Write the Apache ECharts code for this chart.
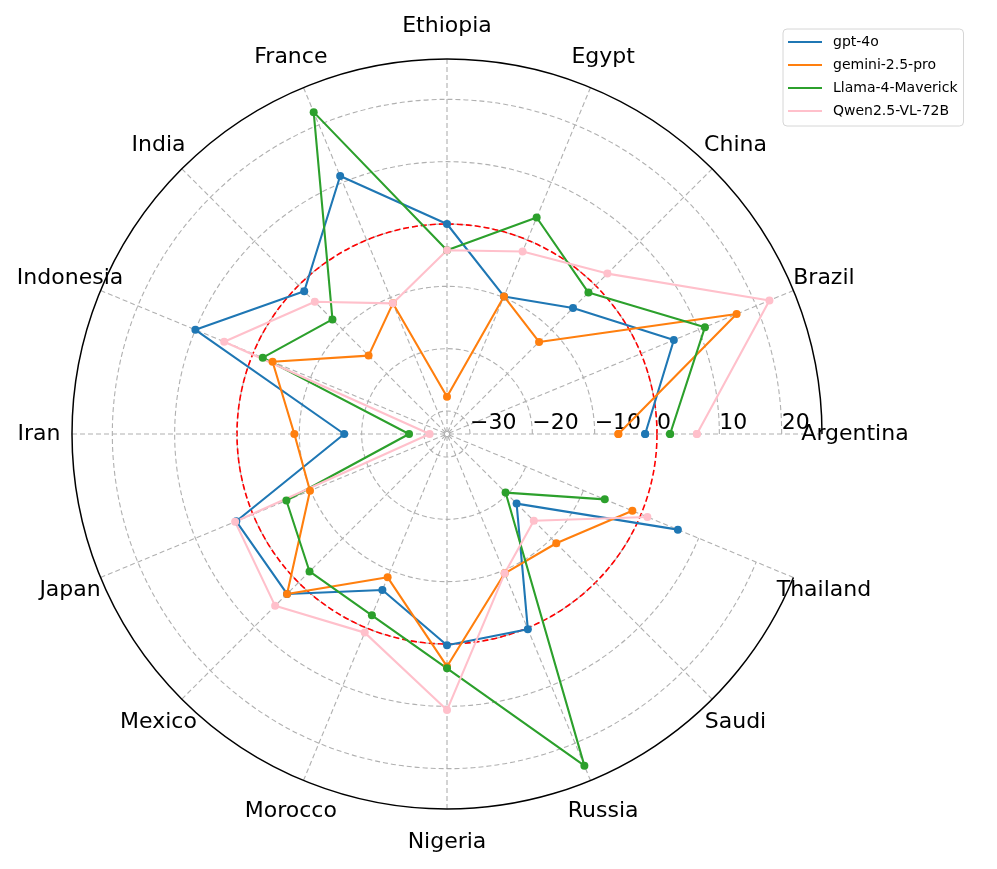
<!DOCTYPE html>
<html>
<head>
<meta charset="utf-8">
<script src="https://cdn.jsdelivr.net/npm/echarts@6/dist/echarts.min.js"></script>
<style>
  html, body { margin: 0; padding: 0; background: #fff; }
  #chart { width: 997px; height: 869px; }
</style>
</head>
<body>
<div id="chart"></div>
<script>
// countries, counter-clockwise from the right
const categories = ['Argentina', 'Brazil', 'China', 'Egypt', 'Ethiopia', 'France', 'India', 'Indonesia',
  'Iran', 'Japan', 'Mexico', 'Morocco', 'Nigeria', 'Russia', 'Saudi', 'Thailand']

const gpt4o = [-1.9, 5.7, -5.1, -9.8, 0.0, 11.1, -1.3, 10.0, -17.2, 2.9, 2.6, -6.6, 0.2, 0.2, -17.9, 6.4]
const gemini = [-6.2, 16.6, -12.8, -9.8, -27.7, -11.0, -15.9, -3.4, -9.2, -9.9, 2.6, -8.8, 3.6, -9.5, -8.9, -1.5]
const llama = [2.1, 11.1, -1.6, 3.9, -4.2, 22.2, -7.7, -1.7, -27.6, -5.8, -2.5, -2.2, 3.9, 23.9, -20.4, -6.3]
const qwen = [6.4, 22.3, 2.7, -2.0, -4.2, -11.0, -3.7, 5.0, -30.9, 3.1, 5.3, 0.8, 10.6, -9.5, -14.0, 1.1]

const seriesNames = ['gpt-4o', 'gemini-2.5-pro', 'Llama-4-Maverick', 'Qwen2.5-VL-72B']
const seriesValues = [gpt4o, gemini, llama, qwen]

// radial range (matplotlib autoscale)
const rMin = -33.69
const rMax = 26.47
const refValue = 0 // red dashed reference circle

const colors = ['#1f77b4', '#ff7f0e', '#2ca02c', '#ffc0cb']
const font = 'DejaVu Sans'
const gridGray = '#b0b0b0'

const chart = echarts.init(document.getElementById('chart'))

function tickText(v) {
  if (Math.abs(v - Math.round(v / 10) * 10) > 1e-6) return ''
  return v < 0 ? '\u2212' + Math.abs(v) : String(v)
}

const option = {
  backgroundColor: '#fff',
  animation: false,
  color: colors,
  legend: {
    orient: 'vertical',
    left: 783,
    top: 29,
    padding: [5, 6, 7, 5],
    itemGap: 7,
    itemWidth: 34,
    itemHeight: 2,
    icon: 'rect',
    borderColor: '#d6d6d6',
    borderWidth: 1,
    borderRadius: 4,
    backgroundColor: '#fff',
    textStyle: {
      fontFamily: font,
      fontSize: 14,
      lineHeight: 16,
      color: '#000',
      padding: [0, 0, 0, 6]
    },
    data: seriesNames
  },
  polar: [
    { center: [447, 434], radius: 375 },
    { center: [447, 434], radius: 375 }
  ],
  angleAxis: [
    {
      polarIndex: 0,
      type: 'category',
      data: categories,
      startAngle: 0,
      clockwise: false,
      boundaryGap: false,
      axisLine: { lineStyle: { color: '#000', width: 1.5 } },
      axisTick: { show: false },
      axisLabel: { show: false },
      splitLine: { show: true, lineStyle: { color: gridGray, width: 1.1, type: [5, 3] } }
    },
    {
      polarIndex: 1,
      type: 'value',
      min: 0,
      max: 360,
      startAngle: 0,
      clockwise: false,
      show: false
    }
  ],
  radiusAxis: [
    {
      polarIndex: 0,
      type: 'value',
      min: rMin,
      max: rMax,
      splitNumber: 6,
      axisLine: { show: false },
      axisTick: { show: false },
      axisLabel: {
        color: '#000',
        fontFamily: font,
        fontSize: 22,
        align: 'left',
        verticalAlign: 'middle',
        margin: 11,
        showMinLabel: false,
        showMaxLabel: false,
        formatter: tickText
      },
      splitLine: {
        show: true,
        lineStyle: {
          color: [gridGray, gridGray, gridGray, gridGray, gridGray, gridGray, gridGray, 'rgba(0,0,0,0)'],
          width: 1.1,
          type: [5, 3]
        }
      }
    },
    {
      // only used to draw the zero circle
      polarIndex: 1,
      type: 'value',
      min: rMin,
      max: rMax,
      interval: refValue - rMin,
      axisLine: { show: false },
      axisTick: { show: false },
      axisLabel: { show: false },
      splitLine: {
        show: true,
        lineStyle: {
          color: ['rgba(0,0,0,0)', '#ff0000', 'rgba(0,0,0,0)'],
          width: 1.6,
          type: [6, 3]
        }
      }
    }
  ],
  series: seriesValues.map(function (vals, k) {
    const pts = vals.map(function (v, i) { return [v, i] })
    pts.push([vals[0], 0]) // close the loop
    return {
      name: seriesNames[k],
      type: 'line',
      coordinateSystem: 'polar',
      polarIndex: 0,
      data: pts,
      symbol: 'circle',
      symbolSize: 8,
      showAllSymbol: true,
      lineStyle: { width: 2.1, color: colors[k] },
      itemStyle: { color: colors[k] },
      emphasis: { disabled: true }
    }
  })
}

chart.setOption(option)

// category names, centred on a ring just outside the frame
const labelPad = 33
const labelEls = categories.map(function (name, i) {
  const c = chart.convertToPixel({ seriesIndex: 0 }, [rMin, i])
  const p = chart.convertToPixel({ seriesIndex: 0 }, [rMax, i])
  const dx = p[0] - c[0]
  const dy = p[1] - c[1]
  const len = Math.sqrt(dx * dx + dy * dy)
  const s = (len + labelPad) / len
  return {
    type: 'text',
    x: c[0] + dx * s,
    y: c[1] + dy * s,
    z: 10,
    style: {
      text: name,
      fontFamily: font,
      fontSize: 22,
      fill: '#000',
      align: 'center',
      verticalAlign: 'middle'
    }
  }
})
chart.setOption({ graphic: labelEls })
</script>
</body>
</html>
